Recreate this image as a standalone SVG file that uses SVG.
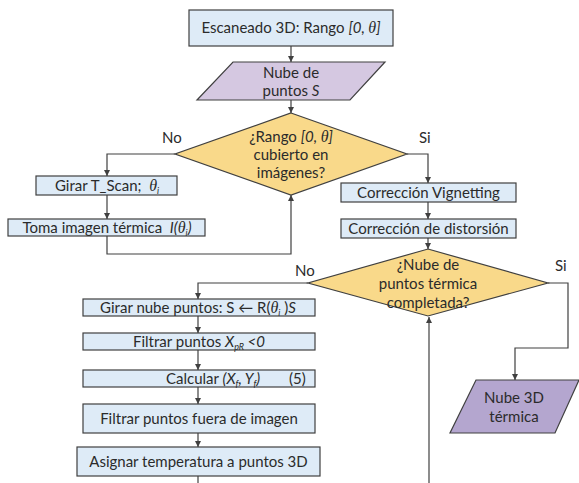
<svg xmlns="http://www.w3.org/2000/svg" width="579" height="483" viewBox="0 0 579 483">
<style>
.box{fill:#deebf7;stroke:#404040;stroke-width:1.2}
.dia{fill:#f9d98a;stroke:#404040;stroke-width:1.2}
.par1{fill:#d5c8e1;stroke:#404040;stroke-width:1.2}
.par2{fill:#b4a6cf;stroke:#404040;stroke-width:1.2}
text{font-family:Lato,"Open Sans",sans-serif;font-size:15px;fill:#2b2b2b;text-anchor:middle}
.st{text-anchor:start}
.it{font-style:italic}
.th{font-family:"Liberation Serif",serif;font-style:italic;font-size:16px}
.sub{font-size:9px;font-style:italic}
.conn path{fill:none;stroke:#404040;stroke-width:1.2}
</style>
<defs>
<marker id="arr" markerUnits="userSpaceOnUse" markerWidth="6" markerHeight="6" refX="6" refY="3" orient="auto">
<path d="M0,0 L6,3 L0,6 z" fill="#404040"/>
</marker>
</defs>
<rect width="579" height="483" fill="#ffffff"/>
<g class="conn">
<path d="M291,46 V62" marker-end="url(#arr)"/>
<path d="M291,100 V113" marker-end="url(#arr)"/>
<path d="M175,154 H107 V176" marker-end="url(#arr)"/>
<path d="M107,195 V219" marker-end="url(#arr)"/>
<path d="M107,236 V254 H291 V195" marker-end="url(#arr)"/>
<path d="M407,154 H428 V183" marker-end="url(#arr)"/>
<path d="M428,202 V219" marker-end="url(#arr)"/>
<path d="M428,238 V249" marker-end="url(#arr)"/>
<path d="M308,283 H198 V299" marker-end="url(#arr)"/>
<path d="M198,316 V333" marker-end="url(#arr)"/>
<path d="M198,350 V370" marker-end="url(#arr)"/>
<path d="M198,387 V404" marker-end="url(#arr)"/>
<path d="M198,433 V447" marker-end="url(#arr)"/>
<path d="M198,476 V483"/>
<path d="M548,283 H568 V348 H515 V380" marker-end="url(#arr)"/>
<path d="M429,483 V317" marker-end="url(#arr)"/>
<text class="st" x="162" y="143">No</text>
<text class="st" x="419" y="143">Si</text>
<text class="st" x="295" y="276">No</text>
<text class="st" x="555" y="271">Si</text>
</g>
<g id="scan">
<rect class="box" x="189" y="10" width="204" height="36"/>
<text x="291" y="33">Escaneado 3D: Rango <tspan class="it">[0, </tspan><tspan class="th">θ</tspan><tspan class="it">]</tspan></text>
</g>
<g id="nube">
<polygon class="par1" points="233,62 385,62 350,100 197,100"/>
<text x="291" y="78">Nube de</text>
<text x="291" y="96">puntos <tspan class="it">S</tspan></text>
</g>
<g id="rango">
<polygon class="dia" points="291,113 407,154 291,195 175,154"/>
<text x="291" y="142">¿Rango <tspan class="it">[0, </tspan><tspan class="th">θ</tspan><tspan class="it">]</tspan></text>
<text x="291" y="160">cubierto en</text>
<text x="291" y="178">imágenes?</text>
</g>
<g id="girar">
<rect class="box" x="36" y="176" width="141" height="19"/>
<text x="107" y="190.5" xml:space="preserve">Girar T_Scan;  <tspan class="th">θ</tspan><tspan class="sub" dy="3">i</tspan></text>
</g>
<g id="toma">
<rect class="box" x="8" y="219" width="197" height="17"/>
<text x="107" y="232.5" xml:space="preserve">Toma imagen térmica  <tspan class="it">I(</tspan><tspan class="th">θ</tspan><tspan class="sub" dy="3">i</tspan><tspan class="it" dy="-3">)</tspan></text>
</g>
<g id="vignetting">
<rect class="box" x="341" y="183" width="175" height="19"/>
<text x="428.5" y="197.5">Corrección Vignetting</text>
</g>
<g id="distorsion">
<rect class="box" x="341" y="219" width="175" height="19"/>
<text x="428.5" y="233.5">Corrección de distorsión</text>
</g>
<g id="completada">
<polygon class="dia" points="428,249 548,283 428,316 308,283"/>
<text x="428" y="270">¿Nube de</text>
<text x="428" y="289">puntos térmica</text>
<text x="428" y="308">completada?</text>
</g>
<g id="girarnube">
<rect class="box" x="83" y="299" width="232" height="17"/>
<text x="198" y="312.5">Girar nube puntos: S ← R(<tspan class="th">θ</tspan><tspan class="sub" dy="3">i</tspan><tspan dy="-3"> )</tspan><tspan class="it">S</tspan></text>
</g>
<g id="filtrar1">
<rect class="box" x="83" y="333" width="232" height="17"/>
<text x="199" y="346.5">Filtrar puntos <tspan class="it">X</tspan><tspan class="sub" dy="3">pR</tspan><tspan class="it" dy="-3"> &lt;0</tspan></text>
</g>
<g id="calcular">
<rect class="box" x="83" y="370" width="232" height="17"/>
<text class="st" x="166" y="383.5">Calcular <tspan class="it">(X</tspan><tspan class="sub" dy="3">f</tspan><tspan class="it" dy="-3">, Y</tspan><tspan class="sub" dy="3">f</tspan><tspan class="it" dy="-3">)</tspan></text>
<text class="st" x="289" y="383.5">(5)</text>
</g>
<g id="filtrar2">
<rect class="box" x="83" y="404" width="232" height="29"/>
<text x="199" y="423.5">Filtrar puntos fuera de imagen</text>
</g>
<g id="asignar">
<rect class="box" x="77" y="447" width="243" height="29"/>
<text x="198.5" y="466.5">Asignar temperatura a puntos 3D</text>
</g>
<g id="nube3d">
<polygon class="par2" points="476,380 579,380 555,433 450,433"/>
<text x="514" y="403">Nube 3D</text>
<text x="514" y="422">térmica</text>
</g>
</svg>
